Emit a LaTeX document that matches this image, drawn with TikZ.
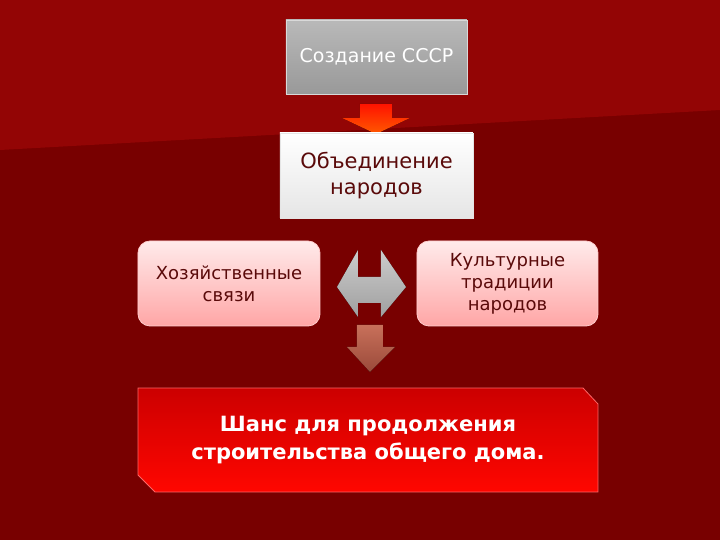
\documentclass[tikz,border=0pt]{standalone}
\usepackage{fontspec}
\setmainfont{DejaVu Sans}
\definecolor{bgdark}{HTML}{780000}
\definecolor{bglight}{HTML}{930505}
\definecolor{txtdark}{HTML}{5A0A0A}
\definecolor{arrA}{HTML}{C8705A}
\definecolor{arrB}{HTML}{9A4A3A}
\tikzset{
  side/.style={draw=white!80!red, rounded corners=6pt, top color=white!92!red, bottom color=red!35!white, text=txtdark, align=center, font=\fontsize{9}{11}\selectfont, inner sep=0pt}
}
\begin{document}
\begin{tikzpicture}[x=0.5pt,y=-0.5pt]
\useasboundingbox (0,0) rectangle (720,540);
\fill[bgdark] (0,0) rectangle (720,540);
\fill[bglight] (0,0) -- (720,0) -- (720,110) -- (0,150) -- cycle;
\node[draw=white!70!gray, top color=gray!55, bottom color=gray!80, text=white, minimum width=90.5pt, minimum height=37pt, font=\fontsize{9.5}{11}\selectfont, inner sep=0pt] (ussr) at (376.5,57) {Создание СССР};
\fill[top color=red!85!orange, bottom color=orange!70!red] (360,104) -- (392,104) -- (392,118) -- (410,118) -- (376,134) -- (342,118) -- (360,118) -- cycle;
\node[draw=white!80!gray, top color=white, bottom color=gray!20, text=txtdark, minimum width=96.5pt, minimum height=42.5pt, align=center, font=\fontsize{10.5}{13}\selectfont, inner sep=0pt] (union) at (376.5,175.5) {Объединение\\народов};
\node[side, minimum width=91pt, minimum height=42.5pt] (econ) at (229,283.5) {Хозяйственные\\связи};
\node[side, minimum width=90.5pt, minimum height=42.5pt] (cult) at (507.5,283.5) {Культурные\\традиции\\народов};
\fill[top color=gray!40, bottom color=gray!75] (337,287) -- (358,250) -- (358,277) -- (381,277) -- (381,250) -- (406,287) -- (381,317) -- (381,303) -- (358,303) -- (358,317) -- cycle;
\fill[top color=arrA, bottom color=arrB] (357,325) -- (383,325) -- (383,347) -- (395,347) -- (370,372) -- (347,347) -- (357,347) -- cycle;
\fill[draw=red!60!white, top color=red!80!black, bottom color=red!95!orange] (138,388) -- (583,388) -- (598,404) -- (598,492) -- (155,492) -- (138,475) -- cycle;
\node[text=white, align=center, font=\bfseries\fontsize{10.5}{14}\selectfont] (chance) at (368,440) {Шанс для продолжения\\строительства общего дома.};
\end{tikzpicture}
\end{document}
